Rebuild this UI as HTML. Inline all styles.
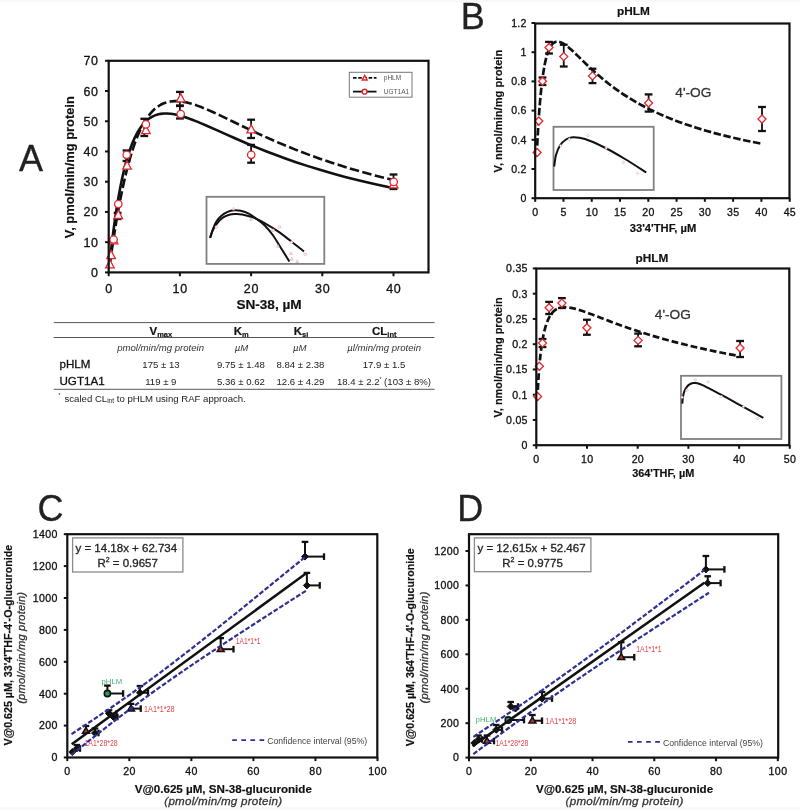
<!DOCTYPE html>
<html><head><meta charset="utf-8"><style>
html,body{margin:0;padding:0;background:#fff;}
svg{display:block;will-change:transform;font-family:"Liberation Sans",sans-serif;}
</style></head><body>
<svg width="800" height="810" viewBox="0 0 800 810">
<rect x="0" y="0" width="800" height="810" fill="#fff"/>
<rect x="0" y="0" width="800" height="2" fill="#fdf6f6"/>
<rect x="0" y="807" width="800" height="3" fill="#fcf8f4"/>
<text stroke="#222" stroke-width="0.3" x="19" y="170.9" font-size="36" text-anchor="start" fill="#222" >A</text>
<line x1="105" y1="272.4" x2="108.7" y2="272.4" stroke="#111" stroke-width="2" />
<text stroke="#111" stroke-width="0.3" x="98.7" y="276.9" font-size="12.5" text-anchor="end" fill="#111" letter-spacing="0.7">0</text>
<line x1="105" y1="242.17" x2="108.7" y2="242.17" stroke="#111" stroke-width="2" />
<text stroke="#111" stroke-width="0.3" x="98.7" y="246.67" font-size="12.5" text-anchor="end" fill="#111" letter-spacing="0.7">10</text>
<line x1="105" y1="211.94" x2="108.7" y2="211.94" stroke="#111" stroke-width="2" />
<text stroke="#111" stroke-width="0.3" x="98.7" y="216.44" font-size="12.5" text-anchor="end" fill="#111" letter-spacing="0.7">20</text>
<line x1="105" y1="181.71" x2="108.7" y2="181.71" stroke="#111" stroke-width="2" />
<text stroke="#111" stroke-width="0.3" x="98.7" y="186.21" font-size="12.5" text-anchor="end" fill="#111" letter-spacing="0.7">30</text>
<line x1="105" y1="151.48" x2="108.7" y2="151.48" stroke="#111" stroke-width="2" />
<text stroke="#111" stroke-width="0.3" x="98.7" y="155.98" font-size="12.5" text-anchor="end" fill="#111" letter-spacing="0.7">40</text>
<line x1="105" y1="121.25" x2="108.7" y2="121.25" stroke="#111" stroke-width="2" />
<text stroke="#111" stroke-width="0.3" x="98.7" y="125.75" font-size="12.5" text-anchor="end" fill="#111" letter-spacing="0.7">50</text>
<line x1="105" y1="91.02" x2="108.7" y2="91.02" stroke="#111" stroke-width="2" />
<text stroke="#111" stroke-width="0.3" x="98.7" y="95.52" font-size="12.5" text-anchor="end" fill="#111" letter-spacing="0.7">60</text>
<line x1="105" y1="60.79" x2="108.7" y2="60.79" stroke="#111" stroke-width="2" />
<text stroke="#111" stroke-width="0.3" x="98.7" y="65.29" font-size="12.5" text-anchor="end" fill="#111" letter-spacing="0.7">70</text>
<line x1="108.7" y1="272.4" x2="108.7" y2="276.2" stroke="#111" stroke-width="2" />
<text stroke="#111" stroke-width="0.3" x="109.05" y="292.6" font-size="12.5" text-anchor="middle" fill="#111" letter-spacing="0.7">0</text>
<line x1="179.9" y1="272.4" x2="179.9" y2="276.2" stroke="#111" stroke-width="2" />
<text stroke="#111" stroke-width="0.3" x="180.25" y="292.6" font-size="12.5" text-anchor="middle" fill="#111" letter-spacing="0.7">10</text>
<line x1="251.1" y1="272.4" x2="251.1" y2="276.2" stroke="#111" stroke-width="2" />
<text stroke="#111" stroke-width="0.3" x="251.45" y="292.6" font-size="12.5" text-anchor="middle" fill="#111" letter-spacing="0.7">20</text>
<line x1="322.3" y1="272.4" x2="322.3" y2="276.2" stroke="#111" stroke-width="2" />
<text stroke="#111" stroke-width="0.3" x="322.65" y="292.6" font-size="12.5" text-anchor="middle" fill="#111" letter-spacing="0.7">30</text>
<line x1="393.5" y1="272.4" x2="393.5" y2="276.2" stroke="#111" stroke-width="2" />
<text stroke="#111" stroke-width="0.3" x="393.85" y="292.6" font-size="12.5" text-anchor="middle" fill="#111" letter-spacing="0.7">40</text>
<text stroke="#111" stroke-width="0.18" x="74.5" y="167.2" font-size="12.9" text-anchor="middle" font-weight="bold" fill="#111" transform="rotate(-90 74.5 167.2)" >V, pmol/min/mg protein</text>
<text stroke="#111" stroke-width="0.18" x="269" y="309.1" font-size="13.6" text-anchor="middle" font-weight="bold" fill="#111" >SN-38, µM</text>
<rect x="206.5" y="196.8" width="117.8" height="67.1" stroke="#808080" stroke-width="1.8" fill="#fff" />
<path d="M210.1 237.9 C210.58 236.42 211.97 231.7 213 229 C214.03 226.3 214.9 223.87 216.25 221.7 C217.6 219.53 219.21 217.63 221.1 216 C222.99 214.37 225.43 212.85 227.6 211.9 C229.77 210.95 231.93 210.48 234.1 210.3 C236.27 210.12 238.16 210.25 240.6 210.8 C243.04 211.35 246.03 212.19 248.75 213.6 C251.47 215.01 254.19 217.22 256.9 219.25 C259.61 221.28 262.3 223.04 265 225.75 C267.7 228.46 270.39 231.71 273.1 235.5 C275.81 239.29 278.53 244.17 281.25 248.5 C283.97 252.83 288.04 259.33 289.4 261.5" fill="none" stroke="#111" stroke-width="2" />
<path d="M210.1 237.9 C210.58 236.55 211.83 232.23 213 229.8 C214.17 227.37 215.47 225.33 217.1 223.3 C218.72 221.27 220.72 219.03 222.75 217.6 C224.78 216.17 227.22 215.3 229.25 214.7 C231.28 214.1 232.73 214.05 234.9 214 C237.07 213.95 239.13 213.8 242.25 214.4 C245.37 215 249.81 216.12 253.6 217.6 C257.39 219.08 260.93 221 265 223.3 C269.07 225.6 273.67 228.42 278 231.4 C282.33 234.38 286.67 237.87 291 241.2 C295.33 244.53 301.83 249.7 304 251.4" fill="none" stroke="#111" stroke-width="2" />
<circle cx="216.3" cy="227" r="1.3" fill="#fff" stroke="#f09095" stroke-width="0.6"/>
<path d="M233.6 207.44 L234.9 210.04 L232.3 210.04 Z" fill="#fff" stroke="#f09095" stroke-width="0.6"/>
<path d="M250.9 217.64 L252.2 220.24 L249.6 220.24 Z" fill="#fff" stroke="#f09095" stroke-width="0.6"/>
<circle cx="273.1" cy="230.3" r="1.3" fill="#fff" stroke="#f09095" stroke-width="0.6"/>
<circle cx="279.3" cy="227" r="1.3" fill="#fff" stroke="#f09095" stroke-width="0.6"/>
<path d="M278 244.54 L279.3 247.14 L276.7 247.14 Z" fill="#fff" stroke="#f09095" stroke-width="0.6"/>
<circle cx="291.5" cy="242.3" r="1.3" fill="#fff" stroke="#f09095" stroke-width="0.6"/>
<path d="M291 251.84 L292.3 254.44 L289.7 254.44 Z" fill="#fff" stroke="#f09095" stroke-width="0.6"/>
<path d="M291.8 257.54 L293.1 260.14 L290.5 260.14 Z" fill="#fff" stroke="#f09095" stroke-width="0.6"/>
<path d="M297.2 259.94 L298.5 262.54 L295.9 262.54 Z" fill="#fff" stroke="#f09095" stroke-width="0.6"/>
<circle cx="305.3" cy="254.2" r="1.3" fill="#fff" stroke="#f09095" stroke-width="0.6"/>
<path d="M109.81 264.24 L109.88 263.76 L109.95 263.25 L110.02 262.71 L110.1 262.14 L110.19 261.54 L110.28 260.91 L110.37 260.23 L110.47 259.52 L110.58 258.77 L110.69 257.97 L110.81 257.13 L110.93 256.25 L111.07 255.31 L111.21 254.32 L111.36 253.28 L111.52 252.17 L111.69 251.01 L111.87 249.79 L112.06 248.5 L112.26 247.14 L112.48 245.7 L112.7 244.19 L112.94 242.61 L113.2 240.94 L113.47 239.18 L113.75 237.34 L114.06 235.4 L114.38 233.36 L114.72 231.23 L115.08 229 L115.46 226.66 L115.87 224.21 L116.3 221.65 L116.75 218.98 L117.24 216.19 L117.75 213.29 L118.29 210.27 L118.87 207.13 L119.48 203.87 L120.12 200.5 L120.81 197.01 L121.54 193.4 L122.31 189.69 L123.12 185.87 L123.99 181.95 L124.91 177.95 L125.88 173.86 L126.91 169.7 L128 165.48 L129.16 161.22 L130.39 156.93 L131.69 152.63 L133.07 148.33 L134.53 144.07 L136.08 139.86 L137.72 135.73 L139.46 131.71 L141.31 127.81 L143.27 124.08 L145.34 120.53 L147.54 117.2 L149.87 114.12 L152.34 111.31 L154.96 108.79 L157.73 106.6 L160.67 104.75 L163.79 103.26 L167.1 102.14 L170.6 101.42 L174.32 101.09 L178.25 101.16 L182.43 101.63 L186.85 102.49 L191.54 103.74 L196.51 105.36 L201.78 107.33 L207.36 109.64 L213.28 112.26 L219.56 115.17 L226.21 118.35 L233.26 121.76 L240.73 125.37 L248.66 129.16 L257.05 133.11 L265.95 137.17 L275.39 141.33 L285.39 145.56 L295.99 149.84 L307.23 154.14 L319.14 158.44 L331.77 162.72 L345.15 166.97 L359.34 171.17 L374.38 175.3 L390.32 179.36 L393.5 180.14" fill="none" stroke="#111" stroke-width="2.6" stroke-dasharray="9.5 3.4" stroke-linejoin="round" />
<path d="M109.81 261.62 L109.88 260.99 L109.95 260.33 L110.02 259.64 L110.1 258.9 L110.19 258.12 L110.28 257.3 L110.37 256.44 L110.47 255.53 L110.58 254.57 L110.69 253.56 L110.81 252.49 L110.93 251.37 L111.07 250.19 L111.21 248.95 L111.36 247.65 L111.52 246.28 L111.69 244.84 L111.87 243.33 L112.06 241.74 L112.26 240.08 L112.48 238.34 L112.7 236.52 L112.94 234.61 L113.2 232.62 L113.47 230.54 L113.75 228.37 L114.06 226.11 L114.38 223.76 L114.72 221.31 L115.08 218.76 L115.46 216.12 L115.87 213.39 L116.3 210.56 L116.75 207.63 L117.24 204.61 L117.75 201.51 L118.29 198.31 L118.87 195.03 L119.48 191.68 L120.12 188.25 L120.81 184.75 L121.54 181.2 L122.31 177.6 L123.12 173.95 L123.99 170.28 L124.91 166.59 L125.88 162.89 L126.91 159.2 L128 155.54 L129.16 151.91 L130.39 148.35 L131.69 144.85 L133.07 141.45 L134.53 138.16 L136.08 135 L137.72 131.99 L139.46 129.15 L141.31 126.49 L143.27 124.04 L145.34 121.8 L147.54 119.81 L149.87 118.07 L152.34 116.59 L154.96 115.38 L157.73 114.47 L160.67 113.84 L163.79 113.51 L167.1 113.48 L170.6 113.75 L174.32 114.32 L178.25 115.18 L182.43 116.33 L186.85 117.76 L191.54 119.45 L196.51 121.4 L201.78 123.59 L207.36 126 L213.28 128.62 L219.56 131.43 L226.21 134.41 L233.26 137.54 L240.73 140.81 L248.66 144.19 L257.05 147.67 L265.95 151.22 L275.39 154.83 L285.39 158.49 L295.99 162.18 L307.23 165.87 L319.14 169.57 L331.77 173.25 L345.15 176.9 L359.34 180.51 L374.38 184.07 L390.32 187.58 L393.5 188.25" fill="none" stroke="#111" stroke-width="2.6" stroke-linejoin="round" />
<line x1="179.9" y1="91.9" x2="179.9" y2="105.5" stroke="#111" stroke-width="1.8" />
<line x1="176" y1="91.9" x2="183.8" y2="91.9" stroke="#111" stroke-width="2.3" />
<line x1="176" y1="105.5" x2="183.8" y2="105.5" stroke="#111" stroke-width="2.3" />
<line x1="179.9" y1="106" x2="179.9" y2="118.5" stroke="#111" stroke-width="1.8" />
<line x1="176" y1="106" x2="183.8" y2="106" stroke="#111" stroke-width="2.3" />
<line x1="176" y1="118.5" x2="183.8" y2="118.5" stroke="#111" stroke-width="2.3" />
<line x1="251.1" y1="119.7" x2="251.1" y2="138" stroke="#111" stroke-width="1.8" />
<line x1="247.2" y1="119.7" x2="255" y2="119.7" stroke="#111" stroke-width="2.3" />
<line x1="247.2" y1="138" x2="255" y2="138" stroke="#111" stroke-width="2.3" />
<line x1="251.1" y1="144.9" x2="251.1" y2="162.7" stroke="#111" stroke-width="1.8" />
<line x1="247.2" y1="144.9" x2="255" y2="144.9" stroke="#111" stroke-width="2.3" />
<line x1="247.2" y1="162.7" x2="255" y2="162.7" stroke="#111" stroke-width="2.3" />
<line x1="144.3" y1="118.8" x2="144.3" y2="136" stroke="#111" stroke-width="1.8" />
<line x1="140.4" y1="118.8" x2="148.2" y2="118.8" stroke="#111" stroke-width="2.3" />
<line x1="140.4" y1="136" x2="148.2" y2="136" stroke="#111" stroke-width="2.3" />
<line x1="126.5" y1="150.5" x2="126.5" y2="161" stroke="#111" stroke-width="1.8" />
<line x1="122.6" y1="150.5" x2="130.4" y2="150.5" stroke="#111" stroke-width="2.3" />
<line x1="122.6" y1="161" x2="130.4" y2="161" stroke="#111" stroke-width="2.3" />
<line x1="393.5" y1="174.5" x2="393.5" y2="189" stroke="#111" stroke-width="1.8" />
<line x1="389.6" y1="174.5" x2="397.4" y2="174.5" stroke="#111" stroke-width="2.3" />
<line x1="389.6" y1="189" x2="397.4" y2="189" stroke="#111" stroke-width="2.3" />
<line x1="117.6" y1="212.8" x2="117.6" y2="219" stroke="#111" stroke-width="1.8" />
<line x1="113.7" y1="212.8" x2="121.5" y2="212.8" stroke="#111" stroke-width="2.3" />
<line x1="113.7" y1="219" x2="121.5" y2="219" stroke="#111" stroke-width="2.3" />
<path d="M109.9 259.68 L114.2 267.88 L105.6 267.88 Z" fill="#fff" stroke="#e3262d" stroke-width="1.3"/>
<path d="M111.1 250.38 L115.4 258.58 L106.8 258.58 Z" fill="#fff" stroke="#e3262d" stroke-width="1.3"/>
<path d="M113.6 235.58 L117.9 243.78 L109.3 243.78 Z" fill="#fff" stroke="#e3262d" stroke-width="1.3"/>
<path d="M118.3 210.28 L122.6 218.48 L114 218.48 Z" fill="#fff" stroke="#e3262d" stroke-width="1.3"/>
<path d="M127 160.98 L131.3 169.18 L122.7 169.18 Z" fill="#fff" stroke="#e3262d" stroke-width="1.3"/>
<path d="M145.9 125.48 L150.2 133.68 L141.6 133.68 Z" fill="#fff" stroke="#e3262d" stroke-width="1.3"/>
<path d="M180.7 93.58 L185 101.78 L176.4 101.78 Z" fill="#fff" stroke="#e3262d" stroke-width="1.3"/>
<path d="M251.2 124.68 L255.5 132.88 L246.9 132.88 Z" fill="#fff" stroke="#e3262d" stroke-width="1.3"/>
<path d="M393.7 179.68 L398 187.88 L389.4 187.88 Z" fill="#fff" stroke="#e3262d" stroke-width="1.3"/>
<circle cx="113.6" cy="239.5" r="3.7" fill="#fff" stroke="#e3262d" stroke-width="1.3"/>
<circle cx="118.3" cy="204.1" r="3.7" fill="#fff" stroke="#e3262d" stroke-width="1.3"/>
<circle cx="126.7" cy="154.8" r="3.7" fill="#fff" stroke="#e3262d" stroke-width="1.3"/>
<circle cx="145.9" cy="124.4" r="3.7" fill="#fff" stroke="#e3262d" stroke-width="1.3"/>
<circle cx="180.7" cy="114.1" r="3.7" fill="#fff" stroke="#e3262d" stroke-width="1.3"/>
<circle cx="251.2" cy="154.8" r="3.7" fill="#fff" stroke="#e3262d" stroke-width="1.3"/>
<circle cx="393.7" cy="181.9" r="3.7" fill="#fff" stroke="#e3262d" stroke-width="1.3"/>
<rect x="108.7" y="60.8" width="319.8" height="211.6" stroke="#111" stroke-width="2.2" fill="none" />
<rect x="349.3" y="72.3" width="62.7" height="24.9" stroke="#777" stroke-width="1" fill="#fff" />
<line x1="353" y1="77.9" x2="376.5" y2="77.9" stroke="#111" stroke-width="1.8" stroke-dasharray="3.6 1.6"/>
<path d="M364.7 75.44 L367.2 80.04 L362.2 80.04 Z" fill="#fff" stroke="#e3262d" stroke-width="1.4"/>
<line x1="353" y1="91.6" x2="376.5" y2="91.6" stroke="#111" stroke-width="1.8" />
<circle cx="364.6" cy="91.7" r="2.4" fill="#fff" stroke="#e3262d" stroke-width="1.4"/>
<text x="383.8" y="80.2" font-size="6.5" text-anchor="start" fill="#555" >pHLM</text>
<text x="383.8" y="93.9" font-size="6.5" text-anchor="start" fill="#555" >UGT1A1</text>
<line x1="53.7" y1="322.6" x2="434.5" y2="322.6" stroke="#555" stroke-width="1" />
<line x1="53.7" y1="337.5" x2="434.5" y2="337.5" stroke="#555" stroke-width="1" />
<line x1="53.7" y1="389.3" x2="434.5" y2="389.3" stroke="#555" stroke-width="1" />
<text stroke="#111" stroke-width="0.18" x="149.5" y="334.5" font-size="11.5" font-weight="bold" fill="#111">V<tspan font-size="7.5" dy="2">max</tspan></text>
<text stroke="#111" stroke-width="0.18" x="233.7" y="334.5" font-size="11.5" font-weight="bold" fill="#111">K<tspan font-size="7.5" dy="2">m</tspan></text>
<text stroke="#111" stroke-width="0.18" x="293.7" y="334.5" font-size="11.5" font-weight="bold" fill="#111">K<tspan font-size="7.5" dy="2">si</tspan></text>
<text stroke="#111" stroke-width="0.18" x="372" y="334.5" font-size="11.5" font-weight="bold" fill="#111">CL<tspan font-size="7.5" dy="2">int</tspan></text>
<text x="160.6" y="350.5" font-size="9.6" text-anchor="middle" font-style="italic" fill="#333" >pmol/min/mg protein</text>
<text x="241.5" y="350.5" font-size="9.6" text-anchor="middle" font-style="italic" fill="#333" >µM</text>
<text x="299.7" y="350.5" font-size="9.6" text-anchor="middle" font-style="italic" fill="#333" >µM</text>
<text x="384.2" y="350.5" font-size="9.6" text-anchor="middle" font-style="italic" fill="#333" >µl/min/mg protein</text>
<text stroke="#111" stroke-width="0.3" x="59.5" y="368.3" font-size="11.6" text-anchor="start" fill="#111" >pHLM</text>
<text stroke="#111" stroke-width="0.3" x="59.5" y="385" font-size="11.6" text-anchor="start" fill="#111" >UGT1A1</text>
<text x="161" y="367.9" font-size="9.6" text-anchor="middle" fill="#222" >175 ± 13</text>
<text x="241" y="367.9" font-size="9.6" text-anchor="middle" fill="#222" >9.75 ± 1.48</text>
<text x="300.5" y="367.9" font-size="9.6" text-anchor="middle" fill="#222" >8.84 ± 2.38</text>
<text x="384" y="367.9" font-size="9.6" text-anchor="middle" fill="#222" >17.9 ± 1.5</text>
<text x="160.8" y="384.5" font-size="9.6" text-anchor="middle" fill="#222" >119 ± 9</text>
<text x="241" y="384.5" font-size="9.6" text-anchor="middle" fill="#222" >5.36 ± 0.62</text>
<text x="300.5" y="384.5" font-size="9.6" text-anchor="middle" fill="#222" >12.6 ± 4.29</text>
<text x="336.9" y="384.5" font-size="9.6" fill="#222">18.4 ± 2.2<tspan font-size="5" dy="-4">*</tspan><tspan dy="4"> (103 ± 8%)</tspan></text>
<text x="58.5" y="397" font-size="5" fill="#222">*</text>
<text x="64.5" y="401.5" font-size="9.6" fill="#222">scaled CL<tspan font-size="6.5" dy="1.5">int</tspan><tspan dy="-1.5"> to pHLM using RAF approach.</tspan></text>
<text stroke="#222" stroke-width="0.3" x="460.8" y="29.4" font-size="36" text-anchor="start" fill="#222" >B</text>
<text stroke="#111" stroke-width="0.18" x="633.4" y="15" font-size="11.8" text-anchor="middle" font-weight="bold" fill="#111" >pHLM</text>
<line x1="531.5" y1="198.2" x2="535.2" y2="198.2" stroke="#111" stroke-width="2" />
<text stroke="#111" stroke-width="0.3" x="526.8" y="202" font-size="10.6" text-anchor="end" fill="#111" letter-spacing="0.3">0</text>
<line x1="531.5" y1="169" x2="535.2" y2="169" stroke="#111" stroke-width="2" />
<text stroke="#111" stroke-width="0.3" x="526.8" y="172.8" font-size="10.6" text-anchor="end" fill="#111" letter-spacing="0.3">0.2</text>
<line x1="531.5" y1="139.8" x2="535.2" y2="139.8" stroke="#111" stroke-width="2" />
<text stroke="#111" stroke-width="0.3" x="526.8" y="143.6" font-size="10.6" text-anchor="end" fill="#111" letter-spacing="0.3">0.4</text>
<line x1="531.5" y1="110.6" x2="535.2" y2="110.6" stroke="#111" stroke-width="2" />
<text stroke="#111" stroke-width="0.3" x="526.8" y="114.4" font-size="10.6" text-anchor="end" fill="#111" letter-spacing="0.3">0.6</text>
<line x1="531.5" y1="81.4" x2="535.2" y2="81.4" stroke="#111" stroke-width="2" />
<text stroke="#111" stroke-width="0.3" x="526.8" y="85.2" font-size="10.6" text-anchor="end" fill="#111" letter-spacing="0.3">0.8</text>
<line x1="531.5" y1="52.2" x2="535.2" y2="52.2" stroke="#111" stroke-width="2" />
<text stroke="#111" stroke-width="0.3" x="526.8" y="56" font-size="10.6" text-anchor="end" fill="#111" letter-spacing="0.3">1</text>
<line x1="531.5" y1="23" x2="535.2" y2="23" stroke="#111" stroke-width="2" />
<text stroke="#111" stroke-width="0.3" x="526.8" y="26.8" font-size="10.6" text-anchor="end" fill="#111" letter-spacing="0.3">1.2</text>
<line x1="535.2" y1="198.2" x2="535.2" y2="201.8" stroke="#111" stroke-width="2" />
<text stroke="#111" stroke-width="0.3" x="535.35" y="216" font-size="10.6" text-anchor="middle" fill="#111" letter-spacing="0.3">0</text>
<line x1="563.48" y1="198.2" x2="563.48" y2="201.8" stroke="#111" stroke-width="2" />
<text stroke="#111" stroke-width="0.3" x="563.62" y="216" font-size="10.6" text-anchor="middle" fill="#111" letter-spacing="0.3">5</text>
<line x1="591.75" y1="198.2" x2="591.75" y2="201.8" stroke="#111" stroke-width="2" />
<text stroke="#111" stroke-width="0.3" x="591.9" y="216" font-size="10.6" text-anchor="middle" fill="#111" letter-spacing="0.3">10</text>
<line x1="620.03" y1="198.2" x2="620.03" y2="201.8" stroke="#111" stroke-width="2" />
<text stroke="#111" stroke-width="0.3" x="620.18" y="216" font-size="10.6" text-anchor="middle" fill="#111" letter-spacing="0.3">15</text>
<line x1="648.3" y1="198.2" x2="648.3" y2="201.8" stroke="#111" stroke-width="2" />
<text stroke="#111" stroke-width="0.3" x="648.45" y="216" font-size="10.6" text-anchor="middle" fill="#111" letter-spacing="0.3">20</text>
<line x1="676.58" y1="198.2" x2="676.58" y2="201.8" stroke="#111" stroke-width="2" />
<text stroke="#111" stroke-width="0.3" x="676.73" y="216" font-size="10.6" text-anchor="middle" fill="#111" letter-spacing="0.3">25</text>
<line x1="704.85" y1="198.2" x2="704.85" y2="201.8" stroke="#111" stroke-width="2" />
<text stroke="#111" stroke-width="0.3" x="705" y="216" font-size="10.6" text-anchor="middle" fill="#111" letter-spacing="0.3">30</text>
<line x1="733.12" y1="198.2" x2="733.12" y2="201.8" stroke="#111" stroke-width="2" />
<text stroke="#111" stroke-width="0.3" x="733.27" y="216" font-size="10.6" text-anchor="middle" fill="#111" letter-spacing="0.3">35</text>
<line x1="761.4" y1="198.2" x2="761.4" y2="201.8" stroke="#111" stroke-width="2" />
<text stroke="#111" stroke-width="0.3" x="761.55" y="216" font-size="10.6" text-anchor="middle" fill="#111" letter-spacing="0.3">40</text>
<line x1="789.68" y1="198.2" x2="789.68" y2="201.8" stroke="#111" stroke-width="2" />
<text stroke="#111" stroke-width="0.3" x="789.83" y="216" font-size="10.6" text-anchor="middle" fill="#111" letter-spacing="0.3">45</text>
<text stroke="#111" stroke-width="0.18" x="502.5" y="111.1" font-size="11.15" text-anchor="middle" font-weight="bold" fill="#111" transform="rotate(-90 502.5 111.1)" >V, nmol/min/mg protein</text>
<text stroke="#111" stroke-width="0.18" x="663" y="231.8" font-size="11.2" text-anchor="middle" font-weight="bold" fill="#111" >33'4'THF, µM</text>
<text stroke="#333" stroke-width="0.3" x="675.3" y="97.4" font-size="13.7" text-anchor="start" fill="#333" >4'-OG</text>
<rect x="553.5" y="126.8" width="100.2" height="63.2" stroke="#808080" stroke-width="1.8" fill="#fff" />
<path d="M554.2 166.5 C554.5 164.58 555.03 158.5 556 155 C556.97 151.5 558.33 148.08 560 145.5 C561.67 142.92 563.88 140.88 566 139.5 C568.12 138.12 569.58 137.33 572.75 137.25 C575.92 137.17 579.62 137.25 585 139 C590.38 140.75 598.33 144.42 605 147.75 C611.67 151.08 618.12 154.88 625 159 C631.88 163.12 642.71 170.25 646.25 172.5" fill="none" stroke="#111" stroke-width="2" />
<path d="M560.75 144.4 L562.15 145.8 L560.75 147.2 L559.35 145.8 Z" fill="#fff" stroke="#f09095" stroke-width="0.6"/>
<path d="M569.4 137.8 L570.8 139.2 L569.4 140.6 L568 139.2 Z" fill="#fff" stroke="#f09095" stroke-width="0.6"/>
<path d="M588 134.1 L589.4 135.5 L588 136.9 L586.6 135.5 Z" fill="#fff" stroke="#f09095" stroke-width="0.6"/>
<path d="M606.2 146.6 L607.6 148 L606.2 149.4 L604.8 148 Z" fill="#fff" stroke="#f09095" stroke-width="0.6"/>
<path d="M623.4 161 L624.8 162.4 L623.4 163.8 L622 162.4 Z" fill="#fff" stroke="#f09095" stroke-width="0.6"/>
<path d="M637.5 172.1 L638.9 173.5 L637.5 174.9 L636.1 173.5 Z" fill="#fff" stroke="#f09095" stroke-width="0.6"/>
<path d="M537.18 145.6 L537.24 144.4 L537.3 143.19 L537.36 141.96 L537.43 140.7 L537.49 139.43 L537.56 138.13 L537.63 136.82 L537.71 135.49 L537.78 134.13 L537.86 132.76 L537.94 131.37 L538.02 129.96 L538.11 128.53 L538.19 127.08 L538.28 125.62 L538.38 124.14 L538.47 122.64 L538.57 121.13 L538.67 119.6 L538.77 118.05 L538.88 116.49 L538.99 114.92 L539.11 113.33 L539.22 111.73 L539.34 110.12 L539.47 108.49 L539.6 106.86 L539.73 105.22 L539.86 103.57 L540 101.91 L540.15 100.25 L540.3 98.58 L540.45 96.9 L540.61 95.23 L540.77 93.55 L540.94 91.87 L541.11 90.2 L541.29 88.52 L541.47 86.85 L541.66 85.19 L541.85 83.53 L542.05 81.88 L542.26 80.24 L542.47 78.62 L542.68 77 L542.91 75.4 L543.14 73.82 L543.38 72.25 L543.62 70.71 L543.88 69.19 L544.14 67.69 L544.41 66.21 L544.68 64.76 L544.97 63.34 L545.26 61.96 L545.56 60.6 L545.87 59.28 L546.19 57.99 L546.52 56.74 L546.86 55.53 L547.21 54.36 L547.57 53.24 L547.94 52.15 L548.32 51.12 L548.72 50.13 L549.12 49.18 L549.54 48.29 L549.97 47.45 L550.41 46.67 L550.87 45.93 L551.34 45.26 L551.83 44.63 L552.32 44.07 L552.84 43.56 L553.37 43.11 L553.91 42.73 L554.47 42.4 L555.05 42.13 L555.65 41.93 L556.26 41.78 L556.89 41.7 L557.54 41.68 L558.21 41.72 L558.9 41.83 L559.62 42 L560.35 42.22 L561.1 42.52 L561.88 42.87 L562.68 43.28 L563.5 43.75 L564.35 44.29 L565.23 44.88 L566.13 45.53 L567.06 46.23 L568.01 46.99 L569 47.81 L570.01 48.68 L571.05 49.6 L572.13 50.57 L573.24 51.6 L574.38 52.67 L575.56 53.78 L576.77 54.94 L578.01 56.15 L579.3 57.4 L580.62 58.68 L581.98 60.01 L583.39 61.37 L584.83 62.77 L586.32 64.2 L587.85 65.66 L589.43 67.15 L591.06 68.66 L592.74 70.21 L594.46 71.78 L596.24 73.36 L598.07 74.97 L599.96 76.6 L601.9 78.25 L603.9 79.91 L605.96 81.58 L608.09 83.27 L610.27 84.96 L612.52 86.66 L614.84 88.37 L617.23 90.09 L619.69 91.81 L622.23 93.53 L624.84 95.25 L627.53 96.97 L630.3 98.69 L633.15 100.4 L636.09 102.12 L639.12 103.82 L642.24 105.52 L645.45 107.21 L648.75 108.89 L652.16 110.56 L655.67 112.22 L659.28 113.87 L663.01 115.5 L666.84 117.12 L670.79 118.73 L674.86 120.32 L679.05 121.89 L683.36 123.45 L687.81 124.99 L692.38 126.52 L697.1 128.02 L701.96 129.51 L706.96 130.98 L712.11 132.43 L717.42 133.86 L722.89 135.27 L728.52 136.65 L734.32 138.02 L740.29 139.37 L746.44 140.7 L752.78 142 L759.31 143.28 L762.53 143.9" fill="none" stroke="#111" stroke-width="2.7" stroke-dasharray="7.5 2.6" stroke-linejoin="round" />
<line x1="549" y1="41.9" x2="549" y2="53.5" stroke="#111" stroke-width="1.8" />
<line x1="545.1" y1="41.9" x2="552.9" y2="41.9" stroke="#111" stroke-width="2.3" />
<line x1="545.1" y1="53.5" x2="552.9" y2="53.5" stroke="#111" stroke-width="2.3" />
<line x1="563.75" y1="44.75" x2="563.75" y2="66.5" stroke="#111" stroke-width="1.8" />
<line x1="559.85" y1="44.75" x2="567.65" y2="44.75" stroke="#111" stroke-width="2.3" />
<line x1="559.85" y1="66.5" x2="567.65" y2="66.5" stroke="#111" stroke-width="2.3" />
<line x1="592.5" y1="68.75" x2="592.5" y2="83.1" stroke="#111" stroke-width="1.8" />
<line x1="588.6" y1="68.75" x2="596.4" y2="68.75" stroke="#111" stroke-width="2.3" />
<line x1="588.6" y1="83.1" x2="596.4" y2="83.1" stroke="#111" stroke-width="2.3" />
<line x1="648.6" y1="94.4" x2="648.6" y2="111.6" stroke="#111" stroke-width="1.8" />
<line x1="644.7" y1="94.4" x2="652.5" y2="94.4" stroke="#111" stroke-width="2.3" />
<line x1="644.7" y1="111.6" x2="652.5" y2="111.6" stroke="#111" stroke-width="2.3" />
<line x1="762" y1="107" x2="762" y2="131" stroke="#111" stroke-width="1.8" />
<line x1="758.1" y1="107" x2="765.9" y2="107" stroke="#111" stroke-width="2.3" />
<line x1="758.1" y1="131" x2="765.9" y2="131" stroke="#111" stroke-width="2.3" />
<line x1="542.5" y1="77.5" x2="542.5" y2="85" stroke="#111" stroke-width="1.8" />
<line x1="538.6" y1="77.5" x2="546.4" y2="77.5" stroke="#111" stroke-width="2.3" />
<line x1="538.6" y1="85" x2="546.4" y2="85" stroke="#111" stroke-width="2.3" />
<path d="M537.1 148.5 L541.1 152.5 L537.1 156.5 L533.1 152.5 Z" fill="#fff" stroke="#e3262d" stroke-width="1.3"/>
<path d="M538.8 117 L542.8 121 L538.8 125 L534.8 121 Z" fill="#fff" stroke="#e3262d" stroke-width="1.3"/>
<path d="M542.5 77.25 L546.5 81.25 L542.5 85.25 L538.5 81.25 Z" fill="#fff" stroke="#e3262d" stroke-width="1.3"/>
<path d="M549 43.5 L553 47.5 L549 51.5 L545 47.5 Z" fill="#fff" stroke="#e3262d" stroke-width="1.3"/>
<path d="M563.75 52.6 L567.75 56.6 L563.75 60.6 L559.75 56.6 Z" fill="#fff" stroke="#e3262d" stroke-width="1.3"/>
<path d="M592.5 71.9 L596.5 75.9 L592.5 79.9 L588.5 75.9 Z" fill="#fff" stroke="#e3262d" stroke-width="1.3"/>
<path d="M648.6 99 L652.6 103 L648.6 107 L644.6 103 Z" fill="#fff" stroke="#e3262d" stroke-width="1.3"/>
<path d="M762 115 L766 119 L762 123 L758 119 Z" fill="#fff" stroke="#e3262d" stroke-width="1.3"/>
<rect x="535.2" y="23.5" width="254.3" height="174.7" stroke="#111" stroke-width="2.2" fill="none" />
<text stroke="#111" stroke-width="0.18" x="652" y="262" font-size="11.8" text-anchor="middle" font-weight="bold" fill="#111" >pHLM</text>
<line x1="532.8" y1="445.2" x2="536.3" y2="445.2" stroke="#111" stroke-width="2" />
<text stroke="#111" stroke-width="0.3" x="527.8" y="449" font-size="10.6" text-anchor="end" fill="#111" letter-spacing="0.3">0</text>
<line x1="532.8" y1="419.95" x2="536.3" y2="419.95" stroke="#111" stroke-width="2" />
<text stroke="#111" stroke-width="0.3" x="527.8" y="423.75" font-size="10.6" text-anchor="end" fill="#111" letter-spacing="0.3">0.05</text>
<line x1="532.8" y1="394.7" x2="536.3" y2="394.7" stroke="#111" stroke-width="2" />
<text stroke="#111" stroke-width="0.3" x="527.8" y="398.5" font-size="10.6" text-anchor="end" fill="#111" letter-spacing="0.3">0.1</text>
<line x1="532.8" y1="369.45" x2="536.3" y2="369.45" stroke="#111" stroke-width="2" />
<text stroke="#111" stroke-width="0.3" x="527.8" y="373.25" font-size="10.6" text-anchor="end" fill="#111" letter-spacing="0.3">0.15</text>
<line x1="532.8" y1="344.2" x2="536.3" y2="344.2" stroke="#111" stroke-width="2" />
<text stroke="#111" stroke-width="0.3" x="527.8" y="348" font-size="10.6" text-anchor="end" fill="#111" letter-spacing="0.3">0.2</text>
<line x1="532.8" y1="318.95" x2="536.3" y2="318.95" stroke="#111" stroke-width="2" />
<text stroke="#111" stroke-width="0.3" x="527.8" y="322.75" font-size="10.6" text-anchor="end" fill="#111" letter-spacing="0.3">0.25</text>
<line x1="532.8" y1="293.7" x2="536.3" y2="293.7" stroke="#111" stroke-width="2" />
<text stroke="#111" stroke-width="0.3" x="527.8" y="297.5" font-size="10.6" text-anchor="end" fill="#111" letter-spacing="0.3">0.3</text>
<line x1="532.8" y1="268.45" x2="536.3" y2="268.45" stroke="#111" stroke-width="2" />
<text stroke="#111" stroke-width="0.3" x="527.8" y="272.25" font-size="10.6" text-anchor="end" fill="#111" letter-spacing="0.3">0.35</text>
<line x1="536.3" y1="445.2" x2="536.3" y2="448.8" stroke="#111" stroke-width="2" />
<text stroke="#111" stroke-width="0.3" x="536.45" y="462.5" font-size="10.6" text-anchor="middle" fill="#111" letter-spacing="0.3">0</text>
<line x1="587" y1="445.2" x2="587" y2="448.8" stroke="#111" stroke-width="2" />
<text stroke="#111" stroke-width="0.3" x="587.15" y="462.5" font-size="10.6" text-anchor="middle" fill="#111" letter-spacing="0.3">10</text>
<line x1="637.7" y1="445.2" x2="637.7" y2="448.8" stroke="#111" stroke-width="2" />
<text stroke="#111" stroke-width="0.3" x="637.85" y="462.5" font-size="10.6" text-anchor="middle" fill="#111" letter-spacing="0.3">20</text>
<line x1="688.4" y1="445.2" x2="688.4" y2="448.8" stroke="#111" stroke-width="2" />
<text stroke="#111" stroke-width="0.3" x="688.55" y="462.5" font-size="10.6" text-anchor="middle" fill="#111" letter-spacing="0.3">30</text>
<line x1="739.1" y1="445.2" x2="739.1" y2="448.8" stroke="#111" stroke-width="2" />
<text stroke="#111" stroke-width="0.3" x="739.25" y="462.5" font-size="10.6" text-anchor="middle" fill="#111" letter-spacing="0.3">40</text>
<line x1="789.8" y1="445.2" x2="789.8" y2="448.8" stroke="#111" stroke-width="2" />
<text stroke="#111" stroke-width="0.3" x="789.95" y="462.5" font-size="10.6" text-anchor="middle" fill="#111" letter-spacing="0.3">50</text>
<text stroke="#111" stroke-width="0.18" x="502.2" y="357.4" font-size="10.9" text-anchor="middle" font-weight="bold" fill="#111" transform="rotate(-90 502.2 357.4)" >V, nmol/min/mg protein</text>
<text stroke="#111" stroke-width="0.18" x="663.2" y="476.6" font-size="10.9" text-anchor="middle" font-weight="bold" fill="#111" >364'THF, µM</text>
<text stroke="#333" stroke-width="0.3" x="654.8" y="318.9" font-size="13.7" text-anchor="start" fill="#333" >4'-OG</text>
<rect x="681" y="375.8" width="100.4" height="63.2" stroke="#808080" stroke-width="1.8" fill="#fff" />
<path d="M682.3 403.7 C682.4 402.58 682.57 399.03 682.9 397 C683.23 394.97 683.7 393.12 684.3 391.5 C684.9 389.88 685.63 388.48 686.5 387.3 C687.37 386.12 688.38 385.12 689.5 384.4 C690.62 383.68 691.92 383.2 693.25 383 C694.58 382.8 695.88 382.82 697.5 383.2 C699.12 383.58 700.75 384.28 703 385.3 C705.25 386.32 708 387.75 711 389.3 C714 390.85 717.5 392.72 721 394.6 C724.5 396.48 728.5 398.67 732 400.6 C735.5 402.53 738.58 404.32 742 406.2 C745.42 408.08 748.95 409.97 752.5 411.9 C756.05 413.83 761.5 416.82 763.3 417.8" fill="none" stroke="#111" stroke-width="2" />
<path d="M682.3 395.85 L683.7 397.25 L682.3 398.65 L680.9 397.25 Z" fill="#fff" stroke="#f09095" stroke-width="0.6"/>
<path d="M686.8 388.8 L688.2 390.2 L686.8 391.6 L685.4 390.2 Z" fill="#fff" stroke="#f09095" stroke-width="0.6"/>
<path d="M695.2 378.6 L696.6 380 L695.2 381.4 L693.8 380 Z" fill="#fff" stroke="#f09095" stroke-width="0.6"/>
<path d="M708.25 380.4 L709.65 381.8 L708.25 383.2 L706.85 381.8 Z" fill="#fff" stroke="#f09095" stroke-width="0.6"/>
<path d="M721.4 395.1 L722.8 396.5 L721.4 397.9 L720 396.5 Z" fill="#fff" stroke="#f09095" stroke-width="0.6"/>
<path d="M743.5 405.3 L744.9 406.7 L743.5 408.1 L742.1 406.7 Z" fill="#fff" stroke="#f09095" stroke-width="0.6"/>
<path d="M757.75 417.3 L759.15 418.7 L757.75 420.1 L756.35 418.7 Z" fill="#fff" stroke="#f09095" stroke-width="0.6"/>
<path d="M537.82 389.81 L537.87 388.91 L537.91 388 L537.96 387.09 L538.01 386.16 L538.06 385.23 L538.12 384.29 L538.17 383.34 L538.23 382.38 L538.28 381.41 L538.34 380.43 L538.41 379.44 L538.47 378.45 L538.53 377.45 L538.6 376.44 L538.67 375.42 L538.74 374.4 L538.81 373.37 L538.89 372.33 L538.97 371.28 L539.05 370.23 L539.13 369.18 L539.21 368.11 L539.3 367.05 L539.39 365.97 L539.48 364.9 L539.58 363.82 L539.68 362.73 L539.78 361.64 L539.88 360.55 L539.99 359.45 L540.1 358.36 L540.22 357.26 L540.33 356.15 L540.46 355.05 L540.58 353.95 L540.71 352.84 L540.84 351.74 L540.98 350.64 L541.12 349.54 L541.26 348.44 L541.41 347.34 L541.56 346.25 L541.72 345.15 L541.88 344.07 L542.05 342.98 L542.22 341.91 L542.4 340.83 L542.59 339.77 L542.77 338.71 L542.97 337.65 L543.17 336.61 L543.37 335.57 L543.59 334.55 L543.8 333.53 L544.03 332.52 L544.26 331.53 L544.5 330.54 L544.75 329.57 L545 328.61 L545.26 327.66 L545.53 326.73 L545.81 325.81 L546.09 324.91 L546.39 324.03 L546.69 323.16 L547 322.31 L547.32 321.47 L547.65 320.66 L547.99 319.86 L548.34 319.08 L548.7 318.33 L549.08 317.59 L549.46 316.88 L549.85 316.18 L550.26 315.51 L550.68 314.86 L551.11 314.24 L551.56 313.64 L552.01 313.06 L552.48 312.51 L552.97 311.98 L553.47 311.48 L553.99 311.01 L554.52 310.56 L555.06 310.14 L555.63 309.75 L556.21 309.38 L556.8 309.04 L557.42 308.73 L558.05 308.45 L558.7 308.19 L559.38 307.97 L560.07 307.77 L560.78 307.6 L561.52 307.47 L562.27 307.36 L563.05 307.28 L563.85 307.23 L564.68 307.21 L565.53 307.22 L566.41 307.26 L567.31 307.33 L568.24 307.42 L569.2 307.55 L570.19 307.71 L571.2 307.89 L572.25 308.11 L573.33 308.35 L574.44 308.62 L575.58 308.92 L576.76 309.25 L577.98 309.61 L579.23 309.99 L580.52 310.4 L581.84 310.84 L583.21 311.3 L584.62 311.79 L586.06 312.31 L587.56 312.85 L589.1 313.41 L590.68 314 L592.31 314.61 L593.99 315.25 L595.72 315.91 L597.5 316.59 L599.34 317.3 L601.23 318.02 L603.18 318.77 L605.19 319.53 L607.25 320.32 L609.38 321.12 L611.57 321.95 L613.83 322.79 L616.16 323.65 L618.55 324.52 L621.02 325.41 L623.56 326.32 L626.18 327.24 L628.88 328.17 L631.65 329.12 L634.52 330.08 L637.46 331.06 L640.5 332.04 L643.62 333.04 L646.84 334.05 L650.16 335.06 L653.57 336.09 L657.09 337.12 L660.72 338.17 L664.45 339.22 L668.29 340.27 L672.25 341.34 L676.33 342.4 L680.53 343.48 L684.86 344.56 L689.32 345.64 L693.91 346.72 L698.63 347.81 L703.5 348.9 L708.52 350 L713.69 351.09 L719.01 352.18 L724.49 353.28 L730.14 354.38 L735.95 355.47 L738.59 355.96" fill="none" stroke="#111" stroke-width="2.7" stroke-dasharray="6.8 3" stroke-linejoin="round" />
<line x1="549.1" y1="301.9" x2="549.1" y2="314" stroke="#111" stroke-width="1.8" />
<line x1="545.2" y1="301.9" x2="553" y2="301.9" stroke="#111" stroke-width="2.3" />
<line x1="545.2" y1="314" x2="553" y2="314" stroke="#111" stroke-width="2.3" />
<line x1="561.9" y1="298.1" x2="561.9" y2="308" stroke="#111" stroke-width="1.8" />
<line x1="558" y1="298.1" x2="565.8" y2="298.1" stroke="#111" stroke-width="2.3" />
<line x1="558" y1="308" x2="565.8" y2="308" stroke="#111" stroke-width="2.3" />
<line x1="586.9" y1="319.75" x2="586.9" y2="334.75" stroke="#111" stroke-width="1.8" />
<line x1="583" y1="319.75" x2="590.8" y2="319.75" stroke="#111" stroke-width="2.3" />
<line x1="583" y1="334.75" x2="590.8" y2="334.75" stroke="#111" stroke-width="2.3" />
<line x1="638.1" y1="333.6" x2="638.1" y2="346.3" stroke="#111" stroke-width="1.8" />
<line x1="634.2" y1="333.6" x2="642" y2="333.6" stroke="#111" stroke-width="2.3" />
<line x1="634.2" y1="346.3" x2="642" y2="346.3" stroke="#111" stroke-width="2.3" />
<line x1="740.1" y1="341" x2="740.1" y2="357" stroke="#111" stroke-width="1.8" />
<line x1="736.2" y1="341" x2="744" y2="341" stroke="#111" stroke-width="2.3" />
<line x1="736.2" y1="357" x2="744" y2="357" stroke="#111" stroke-width="2.3" />
<line x1="542.5" y1="339" x2="542.5" y2="347" stroke="#111" stroke-width="1.8" />
<line x1="538.6" y1="339" x2="546.4" y2="339" stroke="#111" stroke-width="2.3" />
<line x1="538.6" y1="347" x2="546.4" y2="347" stroke="#111" stroke-width="2.3" />
<path d="M537.6 392.5 L541.6 396.5 L537.6 400.5 L533.6 396.5 Z" fill="#fff" stroke="#e3262d" stroke-width="1.3"/>
<path d="M539.4 362.25 L543.4 366.25 L539.4 370.25 L535.4 366.25 Z" fill="#fff" stroke="#e3262d" stroke-width="1.3"/>
<path d="M542.5 339.1 L546.5 343.1 L542.5 347.1 L538.5 343.1 Z" fill="#fff" stroke="#e3262d" stroke-width="1.3"/>
<path d="M549.1 303.75 L553.1 307.75 L549.1 311.75 L545.1 307.75 Z" fill="#fff" stroke="#e3262d" stroke-width="1.3"/>
<path d="M561.9 299.1 L565.9 303.1 L561.9 307.1 L557.9 303.1 Z" fill="#fff" stroke="#e3262d" stroke-width="1.3"/>
<path d="M586.9 323.75 L590.9 327.75 L586.9 331.75 L582.9 327.75 Z" fill="#fff" stroke="#e3262d" stroke-width="1.3"/>
<path d="M638.1 336.4 L642.1 340.4 L638.1 344.4 L634.1 340.4 Z" fill="#fff" stroke="#e3262d" stroke-width="1.3"/>
<path d="M740.1 344 L744.1 348 L740.1 352 L736.1 348 Z" fill="#fff" stroke="#e3262d" stroke-width="1.3"/>
<rect x="536.3" y="268.5" width="253" height="176.7" stroke="#111" stroke-width="2.2" fill="none" />
<text stroke="#222" stroke-width="0.3" x="37.5" y="520.8" font-size="36" text-anchor="start" fill="#222" >C</text>
<line x1="63.8" y1="757.5" x2="67.3" y2="757.5" stroke="#111" stroke-width="2" />
<text stroke="#111" stroke-width="0.3" x="57.9" y="761.3" font-size="10.6" text-anchor="end" fill="#111" letter-spacing="0.4">0</text>
<line x1="63.8" y1="725.6" x2="67.3" y2="725.6" stroke="#111" stroke-width="2" />
<text stroke="#111" stroke-width="0.3" x="57.9" y="729.4" font-size="10.6" text-anchor="end" fill="#111" letter-spacing="0.4">200</text>
<line x1="63.8" y1="693.7" x2="67.3" y2="693.7" stroke="#111" stroke-width="2" />
<text stroke="#111" stroke-width="0.3" x="57.9" y="697.5" font-size="10.6" text-anchor="end" fill="#111" letter-spacing="0.4">400</text>
<line x1="63.8" y1="661.8" x2="67.3" y2="661.8" stroke="#111" stroke-width="2" />
<text stroke="#111" stroke-width="0.3" x="57.9" y="665.6" font-size="10.6" text-anchor="end" fill="#111" letter-spacing="0.4">600</text>
<line x1="63.8" y1="629.9" x2="67.3" y2="629.9" stroke="#111" stroke-width="2" />
<text stroke="#111" stroke-width="0.3" x="57.9" y="633.7" font-size="10.6" text-anchor="end" fill="#111" letter-spacing="0.4">800</text>
<line x1="63.8" y1="598" x2="67.3" y2="598" stroke="#111" stroke-width="2" />
<text stroke="#111" stroke-width="0.3" x="57.9" y="601.8" font-size="10.6" text-anchor="end" fill="#111" letter-spacing="0.4">1000</text>
<line x1="63.8" y1="566.1" x2="67.3" y2="566.1" stroke="#111" stroke-width="2" />
<text stroke="#111" stroke-width="0.3" x="57.9" y="569.9" font-size="10.6" text-anchor="end" fill="#111" letter-spacing="0.4">1200</text>
<line x1="63.8" y1="534.2" x2="67.3" y2="534.2" stroke="#111" stroke-width="2" />
<text stroke="#111" stroke-width="0.3" x="57.9" y="538" font-size="10.6" text-anchor="end" fill="#111" letter-spacing="0.4">1400</text>
<line x1="67.3" y1="757.5" x2="67.3" y2="761.1" stroke="#111" stroke-width="2" />
<text stroke="#111" stroke-width="0.3" x="67.5" y="775" font-size="10.6" text-anchor="middle" fill="#111" letter-spacing="0.4">0</text>
<line x1="129.34" y1="757.5" x2="129.34" y2="761.1" stroke="#111" stroke-width="2" />
<text stroke="#111" stroke-width="0.3" x="129.54" y="775" font-size="10.6" text-anchor="middle" fill="#111" letter-spacing="0.4">20</text>
<line x1="191.38" y1="757.5" x2="191.38" y2="761.1" stroke="#111" stroke-width="2" />
<text stroke="#111" stroke-width="0.3" x="191.58" y="775" font-size="10.6" text-anchor="middle" fill="#111" letter-spacing="0.4">40</text>
<line x1="253.42" y1="757.5" x2="253.42" y2="761.1" stroke="#111" stroke-width="2" />
<text stroke="#111" stroke-width="0.3" x="253.62" y="775" font-size="10.6" text-anchor="middle" fill="#111" letter-spacing="0.4">60</text>
<line x1="315.46" y1="757.5" x2="315.46" y2="761.1" stroke="#111" stroke-width="2" />
<text stroke="#111" stroke-width="0.3" x="315.66" y="775" font-size="10.6" text-anchor="middle" fill="#111" letter-spacing="0.4">80</text>
<line x1="377.5" y1="757.5" x2="377.5" y2="761.1" stroke="#111" stroke-width="2" />
<text stroke="#111" stroke-width="0.3" x="377.7" y="775" font-size="10.6" text-anchor="middle" fill="#111" letter-spacing="0.4">100</text>
<rect x="72.6" y="537.9" width="110.3" height="34.1" stroke="#8a8a8a" stroke-width="1.3" fill="#fff" />
<text stroke="#222" stroke-width="0.3" x="75.5" y="552.4" font-size="11.5" text-anchor="start" fill="#222" >y = 14.18x + 62.734</text>
<text stroke="#222" stroke-width="0.3" x="97.4" y="566.7" font-size="11.5" fill="#222">R<tspan font-size="7" dy="-4.5">2</tspan><tspan dy="4.5"> = 0.9657</tspan></text>
<line x1="76.8" y1="745" x2="76.8" y2="748.5" stroke="#111" stroke-width="2" />
<line x1="73.5" y1="745" x2="80.1" y2="745" stroke="#111" stroke-width="2.3" />
<line x1="76.8" y1="748.5" x2="80" y2="748.5" stroke="#111" stroke-width="2" />
<line x1="80" y1="745.2" x2="80" y2="751.8" stroke="#111" stroke-width="2.3" />
<line x1="86" y1="726" x2="86" y2="731" stroke="#111" stroke-width="2" />
<line x1="82.7" y1="726" x2="89.3" y2="726" stroke="#111" stroke-width="2.3" />
<line x1="95" y1="728.5" x2="95" y2="733" stroke="#111" stroke-width="2" />
<line x1="91.7" y1="728.5" x2="98.3" y2="728.5" stroke="#111" stroke-width="2.3" />
<line x1="95" y1="733" x2="98.5" y2="733" stroke="#111" stroke-width="2" />
<line x1="98.5" y1="729.7" x2="98.5" y2="736.3" stroke="#111" stroke-width="2.3" />
<line x1="109" y1="710.3" x2="109" y2="713.5" stroke="#111" stroke-width="2" />
<line x1="105.7" y1="710.3" x2="112.3" y2="710.3" stroke="#111" stroke-width="2.3" />
<line x1="109" y1="713.5" x2="116.5" y2="713.5" stroke="#111" stroke-width="2" />
<line x1="116.5" y1="710.2" x2="116.5" y2="716.8" stroke="#111" stroke-width="2.3" />
<line x1="113.5" y1="717" x2="117.5" y2="717" stroke="#111" stroke-width="2" />
<line x1="117.5" y1="713.7" x2="117.5" y2="720.3" stroke="#111" stroke-width="2.3" />
<line x1="131" y1="703.9" x2="131" y2="708.6" stroke="#111" stroke-width="2" />
<line x1="127.7" y1="703.9" x2="134.3" y2="703.9" stroke="#111" stroke-width="2.3" />
<line x1="131" y1="708.6" x2="140.75" y2="708.6" stroke="#111" stroke-width="2" />
<line x1="140.75" y1="705.3" x2="140.75" y2="711.9" stroke="#111" stroke-width="2.3" />
<line x1="107.4" y1="685.6" x2="107.4" y2="693.5" stroke="#111" stroke-width="2" />
<line x1="104.1" y1="685.6" x2="110.7" y2="685.6" stroke="#111" stroke-width="2.3" />
<line x1="107.4" y1="693.5" x2="123.1" y2="693.5" stroke="#111" stroke-width="2" />
<line x1="123.1" y1="690.2" x2="123.1" y2="696.8" stroke="#111" stroke-width="2.3" />
<line x1="140" y1="686" x2="140" y2="692.75" stroke="#111" stroke-width="2" />
<line x1="136.7" y1="686" x2="143.3" y2="686" stroke="#111" stroke-width="2.3" />
<line x1="140" y1="692.75" x2="148" y2="692.75" stroke="#111" stroke-width="2" />
<line x1="148" y1="689.45" x2="148" y2="696.05" stroke="#111" stroke-width="2.3" />
<line x1="220.7" y1="638.1" x2="220.7" y2="649.2" stroke="#111" stroke-width="2" />
<line x1="217.4" y1="638.1" x2="224" y2="638.1" stroke="#111" stroke-width="2.3" />
<line x1="220.7" y1="649.2" x2="233.5" y2="649.2" stroke="#111" stroke-width="2" />
<line x1="233.5" y1="645.9" x2="233.5" y2="652.5" stroke="#111" stroke-width="2.3" />
<line x1="305" y1="541.9" x2="305" y2="556.6" stroke="#111" stroke-width="2" />
<line x1="301.7" y1="541.9" x2="308.3" y2="541.9" stroke="#111" stroke-width="2.3" />
<line x1="305" y1="556.6" x2="324" y2="556.6" stroke="#111" stroke-width="2" />
<line x1="324" y1="553.3" x2="324" y2="559.9" stroke="#111" stroke-width="2.3" />
<line x1="306.9" y1="572.9" x2="306.9" y2="585.4" stroke="#111" stroke-width="2" />
<line x1="303.6" y1="572.9" x2="310.2" y2="572.9" stroke="#111" stroke-width="2.3" />
<line x1="306.9" y1="585.4" x2="319.75" y2="585.4" stroke="#111" stroke-width="2" />
<line x1="319.75" y1="582.1" x2="319.75" y2="588.7" stroke="#111" stroke-width="2.3" />
<path d="M72.3 748.5 L75.8 752 L72.3 755.5 L68.8 752 Z" fill="#111" stroke="#111" stroke-width="1"/>
<path d="M76.8 745 L80.3 748.5 L76.8 752 L73.3 748.5 Z" fill="#111" stroke="#111" stroke-width="1"/>
<path d="M86 727.52 L89.5 733.32 L82.5 733.32 Z" fill="#c8303a" stroke="#111" stroke-width="1.5"/>
<path d="M95 729.5 L98.5 733 L95 736.5 L91.5 733 Z" fill="#111" stroke="#111" stroke-width="1"/>
<path d="M109 710 L112.5 713.5 L109 717 L105.5 713.5 Z" fill="#111" stroke="#111" stroke-width="1"/>
<path d="M113.5 713.5 L117 717 L113.5 720.5 L110 717 Z" fill="#111" stroke="#111" stroke-width="1"/>
<path d="M131 705.12 L134.5 710.92 L127.5 710.92 Z" fill="#2e3192" stroke="#111" stroke-width="1.5"/>
<circle cx="107.4" cy="693.5" r="3.1" fill="#22a05a" stroke="#111" stroke-width="1.6"/>
<path d="M140 689.25 L143.5 692.75 L140 696.25 L136.5 692.75 Z" fill="#111" stroke="#111" stroke-width="1"/>
<path d="M220.7 645.72 L224.2 651.52 L217.2 651.52 Z" fill="#c8303a" stroke="#111" stroke-width="1.5"/>
<path d="M305 553.1 L308.5 556.6 L305 560.1 L301.5 556.6 Z" fill="#111" stroke="#111" stroke-width="1"/>
<path d="M306.9 581.9 L310.4 585.4 L306.9 588.9 L303.4 585.4 Z" fill="#111" stroke="#111" stroke-width="1"/>
<path d="M71.5 734.12 L77.34 730.28 L83.17 726.42 L89.01 722.54 L94.85 718.63 L100.69 714.71 L106.53 710.75 L112.36 706.76 L118.2 702.74 L124.04 698.68 L129.88 694.58 L135.71 690.44 L141.55 686.25 L147.39 682.02 L153.22 677.73 L159.06 673.41 L164.9 669.03 L170.74 664.61 L176.57 660.16 L182.41 655.66 L188.25 651.13 L194.09 646.58 L199.93 641.99 L205.76 637.38 L211.6 632.75 L217.44 628.09 L223.28 623.42 L229.11 618.74 L234.95 614.04 L240.79 609.33 L246.62 604.61 L252.46 599.88 L258.3 595.14 L264.14 590.4 L269.98 585.65 L275.81 580.89 L281.65 576.12 L287.49 571.36 L293.32 566.58 L299.16 561.81 L305 557.02" fill="none" stroke="#2e3192" stroke-width="2.2" stroke-dasharray="4.8 1.9" stroke-linejoin="round" />
<path d="M71.5 754.75 L77.37 750.06 L83.24 745.39 L89.11 740.73 L94.97 736.1 L100.84 731.49 L106.71 726.91 L112.58 722.37 L118.45 717.85 L124.32 713.38 L130.19 708.95 L136.06 704.56 L141.93 700.22 L147.79 695.92 L153.66 691.67 L159.53 687.47 L165.4 683.32 L171.27 679.2 L177.14 675.13 L183.01 671.1 L188.88 667.1 L194.74 663.13 L200.61 659.18 L206.48 655.26 L212.35 651.37 L218.22 647.49 L224.09 643.63 L229.96 639.79 L235.82 635.95 L241.69 632.13 L247.56 628.32 L253.43 624.52 L259.3 620.73 L265.17 616.95 L271.04 613.17 L276.91 609.4 L282.77 605.63 L288.64 601.87 L294.51 598.11 L300.38 594.36 L306.25 590.61" fill="none" stroke="#2e3192" stroke-width="2.2" stroke-dasharray="4.8 1.9" stroke-linejoin="round" />
<line x1="71.7" y1="744.29" x2="306.25" y2="573.31" stroke="#111" stroke-width="2.5" />
<line x1="232.2" y1="740.2" x2="264.4" y2="740.2" stroke="#2e3192" stroke-width="1.7" stroke-dasharray="4.7 4.4"/>
<text x="267.2" y="743.8" font-size="8.7" text-anchor="start" fill="#444" >Confidence interval (95%)</text>
<rect x="67.3" y="534.2" width="310" height="223.3" stroke="#111" stroke-width="2.2" fill="none" />
<text stroke="#111" stroke-width="0.18" x="12" y="645.1" font-size="10.7" text-anchor="middle" font-weight="bold" fill="#111" transform="rotate(-90 12 645.1)" >V@0.625 µM, 33'4'THF-4'-O-glucuronide</text>
<text stroke="#333" stroke-width="0.3" x="25.5" y="647.8" font-size="11.2" text-anchor="middle" font-style="italic" fill="#333" transform="rotate(-90 25.5 647.8)" letter-spacing="0.15">(pmol/min/mg protein)</text>
<text stroke="#111" stroke-width="0.18" x="223.3" y="792.5" font-size="11.6" text-anchor="middle" font-weight="bold" fill="#111" >V@0.625 µM, SN-38-glucuronide</text>
<text stroke="#333" stroke-width="0.3" x="223.3" y="805.2" font-size="11.6" text-anchor="middle" font-style="italic" fill="#333" letter-spacing="0.25">(pmol/min/mg protein)</text>
<text x="101.6" y="683.6" font-size="7.2" fill="#45ad6c" textLength="20.5" lengthAdjust="spacingAndGlyphs">pHLM</text>
<text x="235.7" y="644" font-size="8.2" fill="#e0434c" textLength="24.85" lengthAdjust="spacingAndGlyphs">1A1*1*1</text>
<text x="144.1" y="711.9" font-size="8.2" fill="#e0434c" textLength="30.45" lengthAdjust="spacingAndGlyphs">1A1*1*28</text>
<text x="84.5" y="745.8" font-size="8.2" fill="#e0434c" textLength="33.2" lengthAdjust="spacingAndGlyphs">1A1*28*28</text>
<text stroke="#222" stroke-width="0.3" x="457.3" y="520.8" font-size="36" text-anchor="start" fill="#222" >D</text>
<line x1="465.5" y1="757.6" x2="469" y2="757.6" stroke="#111" stroke-width="2" />
<text stroke="#111" stroke-width="0.3" x="459.4" y="761.4" font-size="10.6" text-anchor="end" fill="#111" letter-spacing="0.4">0</text>
<line x1="465.5" y1="723.17" x2="469" y2="723.17" stroke="#111" stroke-width="2" />
<text stroke="#111" stroke-width="0.3" x="459.4" y="726.97" font-size="10.6" text-anchor="end" fill="#111" letter-spacing="0.4">200</text>
<line x1="465.5" y1="688.74" x2="469" y2="688.74" stroke="#111" stroke-width="2" />
<text stroke="#111" stroke-width="0.3" x="459.4" y="692.54" font-size="10.6" text-anchor="end" fill="#111" letter-spacing="0.4">400</text>
<line x1="465.5" y1="654.31" x2="469" y2="654.31" stroke="#111" stroke-width="2" />
<text stroke="#111" stroke-width="0.3" x="459.4" y="658.11" font-size="10.6" text-anchor="end" fill="#111" letter-spacing="0.4">600</text>
<line x1="465.5" y1="619.88" x2="469" y2="619.88" stroke="#111" stroke-width="2" />
<text stroke="#111" stroke-width="0.3" x="459.4" y="623.68" font-size="10.6" text-anchor="end" fill="#111" letter-spacing="0.4">800</text>
<line x1="465.5" y1="585.45" x2="469" y2="585.45" stroke="#111" stroke-width="2" />
<text stroke="#111" stroke-width="0.3" x="459.4" y="589.25" font-size="10.6" text-anchor="end" fill="#111" letter-spacing="0.4">1000</text>
<line x1="465.5" y1="551.02" x2="469" y2="551.02" stroke="#111" stroke-width="2" />
<text stroke="#111" stroke-width="0.3" x="459.4" y="554.82" font-size="10.6" text-anchor="end" fill="#111" letter-spacing="0.4">1200</text>
<line x1="469" y1="757.6" x2="469" y2="761.2" stroke="#111" stroke-width="2" />
<text stroke="#111" stroke-width="0.3" x="469.2" y="775" font-size="10.6" text-anchor="middle" fill="#111" letter-spacing="0.4">0</text>
<line x1="530.76" y1="757.6" x2="530.76" y2="761.2" stroke="#111" stroke-width="2" />
<text stroke="#111" stroke-width="0.3" x="530.96" y="775" font-size="10.6" text-anchor="middle" fill="#111" letter-spacing="0.4">20</text>
<line x1="592.52" y1="757.6" x2="592.52" y2="761.2" stroke="#111" stroke-width="2" />
<text stroke="#111" stroke-width="0.3" x="592.72" y="775" font-size="10.6" text-anchor="middle" fill="#111" letter-spacing="0.4">40</text>
<line x1="654.28" y1="757.6" x2="654.28" y2="761.2" stroke="#111" stroke-width="2" />
<text stroke="#111" stroke-width="0.3" x="654.48" y="775" font-size="10.6" text-anchor="middle" fill="#111" letter-spacing="0.4">60</text>
<line x1="716.04" y1="757.6" x2="716.04" y2="761.2" stroke="#111" stroke-width="2" />
<text stroke="#111" stroke-width="0.3" x="716.24" y="775" font-size="10.6" text-anchor="middle" fill="#111" letter-spacing="0.4">80</text>
<line x1="777.8" y1="757.6" x2="777.8" y2="761.2" stroke="#111" stroke-width="2" />
<text stroke="#111" stroke-width="0.3" x="778" y="775" font-size="10.6" text-anchor="middle" fill="#111" letter-spacing="0.4">100</text>
<rect x="474.4" y="537.9" width="116.5" height="33.8" stroke="#8a8a8a" stroke-width="1.3" fill="#fff" />
<text stroke="#222" stroke-width="0.3" x="477.5" y="552.4" font-size="11.5" text-anchor="start" fill="#222" >y = 12.615x + 52.467</text>
<text stroke="#222" stroke-width="0.3" x="502.3" y="566.7" font-size="11.5" fill="#222">R<tspan font-size="7" dy="-4.5">2</tspan><tspan dy="4.5"> = 0.9775</tspan></text>
<line x1="478.5" y1="735.5" x2="478.5" y2="739.5" stroke="#111" stroke-width="2" />
<line x1="475.2" y1="735.5" x2="481.8" y2="735.5" stroke="#111" stroke-width="2.3" />
<line x1="478.5" y1="739.5" x2="482" y2="739.5" stroke="#111" stroke-width="2" />
<line x1="482" y1="736.2" x2="482" y2="742.8" stroke="#111" stroke-width="2.3" />
<line x1="487" y1="735.5" x2="487" y2="741" stroke="#111" stroke-width="2" />
<line x1="483.7" y1="735.5" x2="490.3" y2="735.5" stroke="#111" stroke-width="2.3" />
<line x1="487" y1="741" x2="494" y2="741" stroke="#111" stroke-width="2" />
<line x1="494" y1="737.7" x2="494" y2="744.3" stroke="#111" stroke-width="2.3" />
<line x1="496.3" y1="725" x2="496.3" y2="729.75" stroke="#111" stroke-width="2" />
<line x1="493" y1="725" x2="499.6" y2="725" stroke="#111" stroke-width="2.3" />
<line x1="496.3" y1="729.75" x2="502" y2="729.75" stroke="#111" stroke-width="2" />
<line x1="502" y1="726.45" x2="502" y2="733.05" stroke="#111" stroke-width="2.3" />
<line x1="508.3" y1="720" x2="524" y2="720" stroke="#111" stroke-width="2" />
<line x1="524" y1="716.7" x2="524" y2="723.3" stroke="#111" stroke-width="2.3" />
<line x1="510.7" y1="702" x2="510.7" y2="706.5" stroke="#111" stroke-width="2" />
<line x1="507.4" y1="702" x2="514" y2="702" stroke="#111" stroke-width="2.3" />
<line x1="510.7" y1="706.5" x2="518" y2="706.5" stroke="#111" stroke-width="2" />
<line x1="518" y1="703.2" x2="518" y2="709.8" stroke="#111" stroke-width="2.3" />
<line x1="532.4" y1="715" x2="532.4" y2="720.7" stroke="#111" stroke-width="2" />
<line x1="529.1" y1="715" x2="535.7" y2="715" stroke="#111" stroke-width="2.3" />
<line x1="532.4" y1="720.7" x2="542" y2="720.7" stroke="#111" stroke-width="2" />
<line x1="542" y1="717.4" x2="542" y2="724" stroke="#111" stroke-width="2.3" />
<line x1="542" y1="692" x2="542" y2="698.6" stroke="#111" stroke-width="2" />
<line x1="538.7" y1="692" x2="545.3" y2="692" stroke="#111" stroke-width="2.3" />
<line x1="542" y1="698.6" x2="552" y2="698.6" stroke="#111" stroke-width="2" />
<line x1="552" y1="695.3" x2="552" y2="701.9" stroke="#111" stroke-width="2.3" />
<line x1="621.2" y1="642.2" x2="621.2" y2="657.2" stroke="#111" stroke-width="2" />
<line x1="617.9" y1="642.2" x2="624.5" y2="642.2" stroke="#111" stroke-width="2.3" />
<line x1="621.2" y1="657.2" x2="634.25" y2="657.2" stroke="#111" stroke-width="2" />
<line x1="634.25" y1="653.9" x2="634.25" y2="660.5" stroke="#111" stroke-width="2.3" />
<line x1="705.9" y1="556" x2="705.9" y2="569.4" stroke="#111" stroke-width="2" />
<line x1="702.6" y1="556" x2="709.2" y2="556" stroke="#111" stroke-width="2.3" />
<line x1="705.9" y1="569.4" x2="724.4" y2="569.4" stroke="#111" stroke-width="2" />
<line x1="724.4" y1="566.1" x2="724.4" y2="572.7" stroke="#111" stroke-width="2.3" />
<line x1="707.75" y1="576.25" x2="707.75" y2="583.1" stroke="#111" stroke-width="2" />
<line x1="704.45" y1="576.25" x2="711.05" y2="576.25" stroke="#111" stroke-width="2.3" />
<line x1="707.75" y1="583.1" x2="720.6" y2="583.1" stroke="#111" stroke-width="2" />
<line x1="720.6" y1="579.8" x2="720.6" y2="586.4" stroke="#111" stroke-width="2.3" />
<path d="M474.3 739.5 L477.8 743 L474.3 746.5 L470.8 743 Z" fill="#111" stroke="#111" stroke-width="1"/>
<path d="M478.5 736 L482 739.5 L478.5 743 L475 739.5 Z" fill="#111" stroke="#111" stroke-width="1"/>
<path d="M487 737.52 L490.5 743.32 L483.5 743.32 Z" fill="#c8303a" stroke="#111" stroke-width="1.5"/>
<path d="M496.3 726.25 L499.8 729.75 L496.3 733.25 L492.8 729.75 Z" fill="#111" stroke="#111" stroke-width="1"/>
<circle cx="508.3" cy="720" r="3.1" fill="#22a05a" stroke="#111" stroke-width="1.6"/>
<path d="M510.7 703 L514.2 706.5 L510.7 710 L507.2 706.5 Z" fill="#111" stroke="#111" stroke-width="1"/>
<path d="M515.5 705 L519 708.5 L515.5 712 L512 708.5 Z" fill="#111" stroke="#111" stroke-width="1"/>
<path d="M532.4 717.22 L535.9 723.02 L528.9 723.02 Z" fill="#c8303a" stroke="#111" stroke-width="1.5"/>
<path d="M542 695.1 L545.5 698.6 L542 702.1 L538.5 698.6 Z" fill="#111" stroke="#111" stroke-width="1"/>
<path d="M621.2 653.72 L624.7 659.52 L617.7 659.52 Z" fill="#c8303a" stroke="#111" stroke-width="1.5"/>
<path d="M705.9 565.9 L709.4 569.4 L705.9 572.9 L702.4 569.4 Z" fill="#111" stroke="#111" stroke-width="1"/>
<path d="M707.75 579.6 L711.25 583.1 L707.75 586.6 L704.25 583.1 Z" fill="#111" stroke="#111" stroke-width="1"/>
<path d="M473.4 736.85 L479.17 733.02 L484.95 729.17 L490.72 725.32 L496.5 721.44 L502.27 717.55 L508.05 713.64 L513.82 709.72 L519.6 705.77 L525.38 701.81 L531.15 697.82 L536.92 693.81 L542.7 689.78 L548.48 685.72 L554.25 681.64 L560.02 677.54 L565.8 673.41 L571.57 669.27 L577.35 665.1 L583.12 660.91 L588.9 656.7 L594.67 652.47 L600.45 648.23 L606.22 643.97 L612 639.7 L617.77 635.41 L623.55 631.11 L629.33 626.79 L635.1 622.47 L640.88 618.14 L646.65 613.79 L652.42 609.44 L658.2 605.08 L663.97 600.72 L669.75 596.34 L675.52 591.97 L681.3 587.58 L687.08 583.19 L692.85 578.8 L698.62 574.4 L704.4 570" fill="none" stroke="#2e3192" stroke-width="2.2" stroke-dasharray="4.8 1.9" stroke-linejoin="round" />
<path d="M473.4 754.09 L479.29 749.71 L485.18 745.34 L491.07 740.98 L496.96 736.64 L502.85 732.32 L508.74 728.01 L514.63 723.72 L520.52 719.46 L526.41 715.21 L532.3 710.99 L538.19 706.79 L544.08 702.62 L549.97 698.47 L555.86 694.34 L561.75 690.24 L567.64 686.16 L573.53 682.1 L579.42 678.07 L585.31 674.06 L591.2 670.06 L597.09 666.09 L602.98 662.13 L608.87 658.19 L614.76 654.26 L620.65 650.35 L626.54 646.45 L632.43 642.56 L638.32 638.68 L644.21 634.82 L650.1 630.96 L655.99 627.11 L661.88 623.26 L667.77 619.43 L673.66 615.6 L679.55 611.77 L685.44 607.96 L691.33 604.14 L697.22 600.33 L703.11 596.53 L709 592.73" fill="none" stroke="#2e3192" stroke-width="2.2" stroke-dasharray="4.8 1.9" stroke-linejoin="round" />
<line x1="472.5" y1="746.11" x2="704.4" y2="582.85" stroke="#111" stroke-width="2.5" />
<line x1="627.9" y1="741.9" x2="660.1" y2="741.9" stroke="#2e3192" stroke-width="1.7" stroke-dasharray="4.7 4.4"/>
<text x="662.9" y="745.5" font-size="8.7" text-anchor="start" fill="#444" >Confidence interval (95%)</text>
<rect x="469" y="534.2" width="309.2" height="223.4" stroke="#111" stroke-width="2.2" fill="none" />
<text stroke="#111" stroke-width="0.18" x="414.4" y="647.3" font-size="10.7" text-anchor="middle" font-weight="bold" fill="#111" transform="rotate(-90 414.4 647.3)" >V@0.625 µM, 364'THF-4'-O-glucuronide</text>
<text stroke="#333" stroke-width="0.3" x="427.9" y="647.4" font-size="11.2" text-anchor="middle" font-style="italic" fill="#333" transform="rotate(-90 427.9 647.4)" letter-spacing="0.15">(pmol/min/mg protein)</text>
<text stroke="#111" stroke-width="0.18" x="624.6" y="792.5" font-size="11.6" text-anchor="middle" font-weight="bold" fill="#111" >V@0.625 µM, SN-38-glucuronide</text>
<text stroke="#333" stroke-width="0.3" x="624.6" y="805.2" font-size="11.6" text-anchor="middle" font-style="italic" fill="#333" letter-spacing="0.25">(pmol/min/mg protein)</text>
<text x="475.6" y="721.75" font-size="7.2" fill="#45ad6c" textLength="20.8" lengthAdjust="spacingAndGlyphs">pHLM</text>
<text x="636.2" y="651.5" font-size="8.2" fill="#e0434c" textLength="25.35" lengthAdjust="spacingAndGlyphs">1A1*1*1</text>
<text x="545.45" y="723.75" font-size="8.2" fill="#e0434c" textLength="30.85" lengthAdjust="spacingAndGlyphs">1A1*1*28</text>
<text x="495.45" y="745.75" font-size="8.2" fill="#e0434c" textLength="32.85" lengthAdjust="spacingAndGlyphs">1A1*28*28</text>
</svg></body></html>
